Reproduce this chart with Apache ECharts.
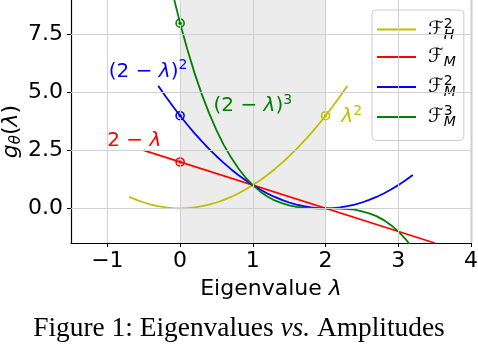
<!DOCTYPE html>
<html lang="en">
<head>
<meta charset="UTF-8">
<title>Eigenvalues vs. Amplitudes</title>
<style>
  body { margin: 0; background: #fff; }
  #chart { width: 478px; height: 344px; }
</style>
</head>
<body>
<div id="chart"></div>
<script src="https://cdn.jsdelivr.net/npm/echarts@6/dist/echarts.min.js"></script>
<script>
// ticks and the shaded band
const xTicks = [-1, 0, 1, 2, 3, 4];
const yTicks = [0, 2.5, 5, 7.5];
const bandRange = [0, 2];

// F_H^2 : lambda^2
const fhX = [-0.7, -0.6, -0.5, -0.4, -0.3, -0.2, -0.1, 0, 0.1, 0.2, 0.3, 0.4, 0.5, 0.6, 0.7, 0.8, 0.9, 1, 1.1, 1.2, 1.3, 1.4, 1.5, 1.6, 1.7, 1.8, 1.9, 2, 2.1, 2.2, 2.3];
const fhY = [0.49, 0.36, 0.25, 0.16, 0.09, 0.04, 0.01, 0, 0.01, 0.04, 0.09, 0.16, 0.25, 0.36, 0.49, 0.64, 0.81, 1, 1.21, 1.44, 1.69, 1.96, 2.25, 2.56, 2.89, 3.24, 3.61, 4, 4.41, 4.84, 5.29];

// F_M : 2 - lambda
const fmX = [-0.5, 3.5];
const fmY = [2.5, -1.5];

// F_M^2 : (2 - lambda)^2
const fm2X = [-0.3, -0.2, -0.1, 0, 0.1, 0.2, 0.3, 0.4, 0.5, 0.6, 0.7, 0.8, 0.9, 1, 1.1, 1.2, 1.3, 1.4, 1.5, 1.6, 1.7, 1.8, 1.9, 2, 2.1, 2.2, 2.3, 2.4, 2.5, 2.6, 2.7, 2.8, 2.9, 3, 3.1, 3.2];
const fm2Y = [5.29, 4.84, 4.41, 4, 3.61, 3.24, 2.89, 2.56, 2.25, 1.96, 1.69, 1.44, 1.21, 1, 0.81, 0.64, 0.49, 0.36, 0.25, 0.16, 0.09, 0.04, 0.01, 0, 0.01, 0.04, 0.09, 0.16, 0.25, 0.36, 0.49, 0.64, 0.81, 1, 1.21, 1.44];

// F_M^3 : (2 - lambda)^3
const fm3X = [-0.1, 0, 0.1, 0.2, 0.3, 0.4, 0.5, 0.6, 0.7, 0.8, 0.9, 1, 1.1, 1.2, 1.3, 1.4, 1.5, 1.6, 1.7, 1.8, 1.9, 2, 2.1, 2.2, 2.3, 2.4, 2.5, 2.6, 2.7, 2.8, 2.9, 3, 3.1, 3.2];
const fm3Y = [9.26, 8, 6.86, 5.83, 4.91, 4.1, 3.38, 2.74, 2.2, 1.73, 1.33, 1, 0.73, 0.51, 0.34, 0.22, 0.13, 0.06, 0.03, 0.01, 0, 0, 0, -0.01, -0.03, -0.06, -0.13, -0.22, -0.34, -0.51, -0.73, -1, -1.33, -1.73];

// highlighted points
const markerPts = [[0, 8], [0, 4], [0, 2], [2, 4]];
const markerColors = ['#008000', '#0000ff', '#ff0000', '#bfbf00'];

// in-plot annotations: position, text
const notePts = [[-0.44, 5.9], [-0.63, 2.9], [1.0, 4.42], [2.36, 3.95]];
const noteTexts = [
  '{n|(2 − }{i|λ}{n|)}{s|2}',
  '{n|2 − }{i|λ}',
  '{n|(2 − }{i|λ}{n|)}{s|3}',
  '{i|λ}{s|2}'
];
const noteColors = ['#0000ff', '#ff0000', '#008000', '#bfbf00'];

const legendNames = ['FH2', 'FM', 'FM2', 'FM3'];
const legendLabels = {
  FH2: '{f|ℱ}{p|2}{b|H}',
  FM: '{f|ℱ}{b|M}',
  FM2: '{f|ℱ}{p|2}{b|M}',
  FM3: '{f|ℱ}{p|3}{b|M}'
};

function zip(xs, ys) {
  return xs.map((x, i) => [x, ys[i]]);
}

const font = 'DejaVu Sans';
const noStroke = { textBorderWidth: 0, textBorderColor: 'transparent', textShadowBlur: 0 };
const mathRich = {
  n: Object.assign({ fontFamily: font, fontSize: 20, lineHeight: 26 }, noStroke),
  i: Object.assign({ fontFamily: font, fontSize: 20, fontStyle: 'italic', lineHeight: 26 }, noStroke),
  s: Object.assign({ fontFamily: font, fontSize: 14, lineHeight: 14, verticalAlign: 'top' }, noStroke)
};

function curve(name, xs, ys, color) {
  return {
    name: name,
    type: 'line',
    data: zip(xs, ys),
    symbol: 'none',
    smooth: false,
    clip: true,
    z: 3,
    lineStyle: { color: color, width: 1.8 },
    itemStyle: { color: color }
  };
}

const chart = echarts.init(document.getElementById('chart'), null, { renderer: 'canvas' });

const option = {
  animation: false,
  grid: { left: 71, right: 7, top: 0, bottom: 101, outerBoundsMode: 'none' },
  xAxis: {
    type: 'value', min: -1.5, max: 4,
    name: '{n|Eigenvalue }{i|λ}',
    nameLocation: 'middle', nameGap: 35,
    nameTextStyle: {
      color: '#000',
      rich: {
        n: { fontFamily: font, fontSize: 22, color: '#000' },
        i: { fontFamily: font, fontSize: 22, fontStyle: 'italic', color: '#000' }
      }
    },
    axisLine: { onZero: false, lineStyle: { color: '#000', width: 1.2 } },
    axisTick: { customValues: xTicks, length: 4, lineStyle: { color: '#000' } },
    axisLabel: {
      customValues: xTicks, margin: 7, color: '#000', fontFamily: font, fontSize: 22,
      formatter: v => String(v).replace('-', '−')
    },
    splitLine: { show: false }
  },
  yAxis: [{
    type: 'value', min: -1.5, max: 9,
    name: '{i|g}{s|θ}{n|(}{i|λ}{n|)}',
    nameLocation: 'middle', nameGap: 47, nameRotate: 90,
    nameMoveOverlap: false,
    nameTextStyle: {
      color: '#000',
      padding: [0, 20, 0, 0],
      rich: {
        n: { fontFamily: font, fontSize: 22, color: '#000', lineHeight: 26 },
        i: { fontFamily: font, fontSize: 22, fontStyle: 'italic', color: '#000', lineHeight: 26 },
        s: { fontFamily: font, fontSize: 15, fontStyle: 'italic', color: '#000', lineHeight: 15, verticalAlign: 'bottom' }
      }
    },
    axisLine: { onZero: false, lineStyle: { color: '#000', width: 1.2 } },
    axisTick: { customValues: yTicks, length: 4, lineStyle: { color: '#000' } },
    axisLabel: {
      customValues: yTicks, margin: 8, color: '#000', fontFamily: font, fontSize: 22,
      formatter: v => v.toFixed(1)
    },
    splitLine: { show: false }
  }, {
    type: 'value', min: -1.5, max: 9, position: 'right',
    axisLine: { show: true, onZero: false, lineStyle: { color: '#000', width: 1.2 } },
    axisTick: { show: false }, axisLabel: { show: false }, splitLine: { show: false }
  }],
  legend: {
    data: legendNames,
    orient: 'vertical',
    left: 372, top: 10,
    padding: [7, 8, 11, 5],
    itemGap: 5,
    icon: 'rect',
    itemWidth: 39, itemHeight: 2,
    backgroundColor: 'rgba(255,255,255,0.85)',
    borderColor: '#cccccc', borderWidth: 1, borderRadius: 4,
    formatter: name => legendLabels[name],
    textStyle: {
      color: '#000',
      padding: [0, 0, 0, 7],
      rich: {
        f: { fontFamily: font, fontSize: 20, fontStyle: 'italic', lineHeight: 25 },
        p: { fontFamily: font, fontSize: 14, lineHeight: 13, verticalAlign: 'top', width: 0 },
        b: { fontFamily: font, fontSize: 14, fontStyle: 'italic', lineHeight: 13, verticalAlign: 'bottom' }
      }
    }
  },
  series: [
    {
      name: 'grid', type: 'line', data: [], z: 0, silent: true,
      markLine: {
        silent: true, symbol: 'none', animation: false,
        label: { show: false },
        lineStyle: { color: '#d0d0d0', width: 1, type: 'solid' },
        data: xTicks.map(v => ({ xAxis: v })).concat(yTicks.map(v => ({ yAxis: v })))
      }
    },
    {
      name: 'band', type: 'line', data: [], z: 1, silent: true,
      markArea: {
        silent: true,
        itemStyle: { color: 'rgba(128,128,128,0.15)' },
        data: [[{ xAxis: bandRange[0] }, { xAxis: bandRange[1] }]]
      }
    },
    curve('FH2', fhX, fhY, '#bfbf00'),
    curve('FM', fmX, fmY, '#ff0000'),
    curve('FM2', fm2X, fm2Y, '#0000ff'),
    curve('FM3', fm3X, fm3Y, '#008000'),
    {
      name: 'rings', type: 'scatter', z: 4, silent: true,
      symbol: 'circle', symbolSize: 8,
      data: markerPts.map((p, i) => ({
        value: p,
        itemStyle: { color: 'none', borderColor: markerColors[i], borderWidth: 1.6, opacity: 1 }
      }))
    },
    {
      name: 'dots', type: 'scatter', z: 10, silent: true,
      symbol: 'circle', symbolSize: 3.5,
      data: markerPts.map((p, i) => ({
        value: p,
        itemStyle: { color: markerColors[i], borderWidth: 0, opacity: 1 }
      }))
    },
    {
      name: 'notes', type: 'scatter', z: 5, silent: true,
      symbolSize: 1, itemStyle: { color: 'rgba(255,255,255,0)', opacity: 1 },
      data: notePts.map((p, i) => ({
        value: p,
        label: Object.assign({
          show: true, position: 'inside',
          formatter: noteTexts[i],
          color: noteColors[i],
          rich: {
            n: Object.assign({ color: noteColors[i] }, mathRich.n),
            i: Object.assign({ color: noteColors[i] }, mathRich.i),
            s: Object.assign({ color: noteColors[i] }, mathRich.s)
          }
        }, noStroke)
      }))
    }
  ],
  graphic: [{
    type: 'text', left: 'center', top: 315,
    style: {
      text: '{n|Figure 1: Eigenvalues }{i|vs.}{n| Amplitudes}',
      rich: {
        n: { fontFamily: 'Liberation Serif', fontSize: 27.4, fill: '#000' },
        i: { fontFamily: 'Liberation Serif', fontSize: 27.4, fontStyle: 'italic', fill: '#000' }
      }
    }
  }]
};

chart.setOption(option);
</script>
</body>
</html>
